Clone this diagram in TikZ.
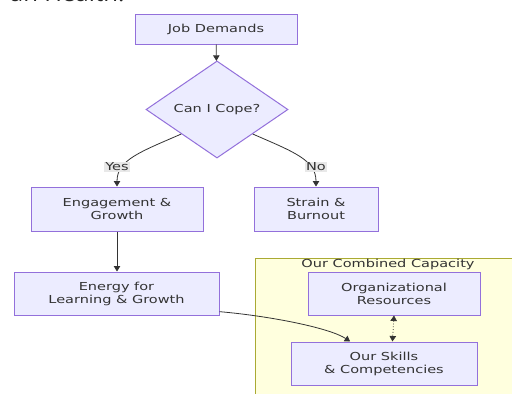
\documentclass[tikz,border=0pt]{standalone}
\usepackage{fontspec}
\setmainfont{DejaVu Sans}[FakeStretch=1.32]
\newfontfamily\titlefont{Open Sans}
\usepackage{tikz}
\usetikzlibrary{arrows.meta,shapes,positioning}
\definecolor{boxfill}{HTML}{ECECFF}
\definecolor{boxline}{HTML}{9370DB}
\definecolor{inkgray}{HTML}{333333}
\definecolor{clusterfill}{HTML}{FFFFDE}
\definecolor{clusterline}{HTML}{AAAA33}
\definecolor{labelfill}{HTML}{E8E8E8}

\begin{document}
\begin{tikzpicture}[x=1pt,y=-1pt,
  flowbox/.style={draw=boxline, fill=boxfill, line width=1pt, text=inkgray,
    font=\fontsize{11}{13}\selectfont, align=center, inner sep=0pt},
  choice/.style={diamond, draw=boxline, fill=boxfill, line width=1pt, text=inkgray,
    font=\fontsize{11}{13}\selectfont, inner sep=0pt, minimum width=142pt, minimum height=75pt},
  flowline/.style={draw=inkgray, line width=0.8pt, -{Triangle[length=5.5pt,width=6.5pt]}},
  edgelabel/.style={fill=labelfill, text=inkgray, inner sep=1pt, font=\fontsize{11}{13}\selectfont}]
  \useasboundingbox (0,0) rectangle (512,394);
  \clip (0,0) rectangle (512,394);
  %clipped heading at top
  \node[anchor=base east, text=black!85, font=\titlefont\fontsize{24}{28}\selectfont] (heading) at (128,1.5) {an Health.};
  %draw cluster of combined capacity
  \draw[fill=clusterfill, draw=clusterline, line width=1pt] (255,258) rectangle (522,400);
  \node[text=inkgray, font=\fontsize{11}{13}\selectfont] (capacity) at (388,264) {Our Combined Capacity};
  %insert boxes
  \node[flowbox, minimum width=162pt, minimum height=30pt] (demands) at (216,29) {Job Demands};
  \node[choice] (cope) at (217,109.5) {Can I Cope?};
  \node[flowbox, minimum width=172pt, minimum height=44pt] (engage) at (117,209) {Engagement \&\\Growth};
  \node[flowbox, minimum width=124pt, minimum height=44pt] (strain) at (316,209) {Strain \&\\Burnout};
  \node[flowbox, minimum width=205pt, minimum height=43pt] (energy) at (116.5,293.5) {Energy for\\Learning \& Growth};
  \node[flowbox, minimum width=172pt, minimum height=43pt] (orgres) at (394,293.5) {Organizational\\Resources};
  \node[flowbox, minimum width=186pt, minimum height=43pt] (skills) at (384,363.5) {Our Skills\\\& Competencies};
  %draw connectors
  \draw[flowline] (demands) -- (cope);
  \draw[flowline] (cope.south west) .. controls (140,152) and (117,160) .. (engage.north);
  \draw[flowline] (cope.south east) .. controls (294,152) and (316,160) .. (strain.north);
  \draw[flowline] (engage.south) -- (engage.south |- energy.north);
  \draw[flowline] (energy.-10) .. controls (270,316) and (330,328) .. (skills.147);
  \draw[flowline, dotted, {Triangle[length=5.5pt,width=6.5pt]}-{Triangle[length=5.5pt,width=6.5pt]}] (orgres.south) -- (skills.69);
  %insert edge labels
  \node[edgelabel] (yes) at (117,167) {Yes};
  \node[edgelabel] (no) at (316,167) {No};
\end{tikzpicture}
\end{document}
